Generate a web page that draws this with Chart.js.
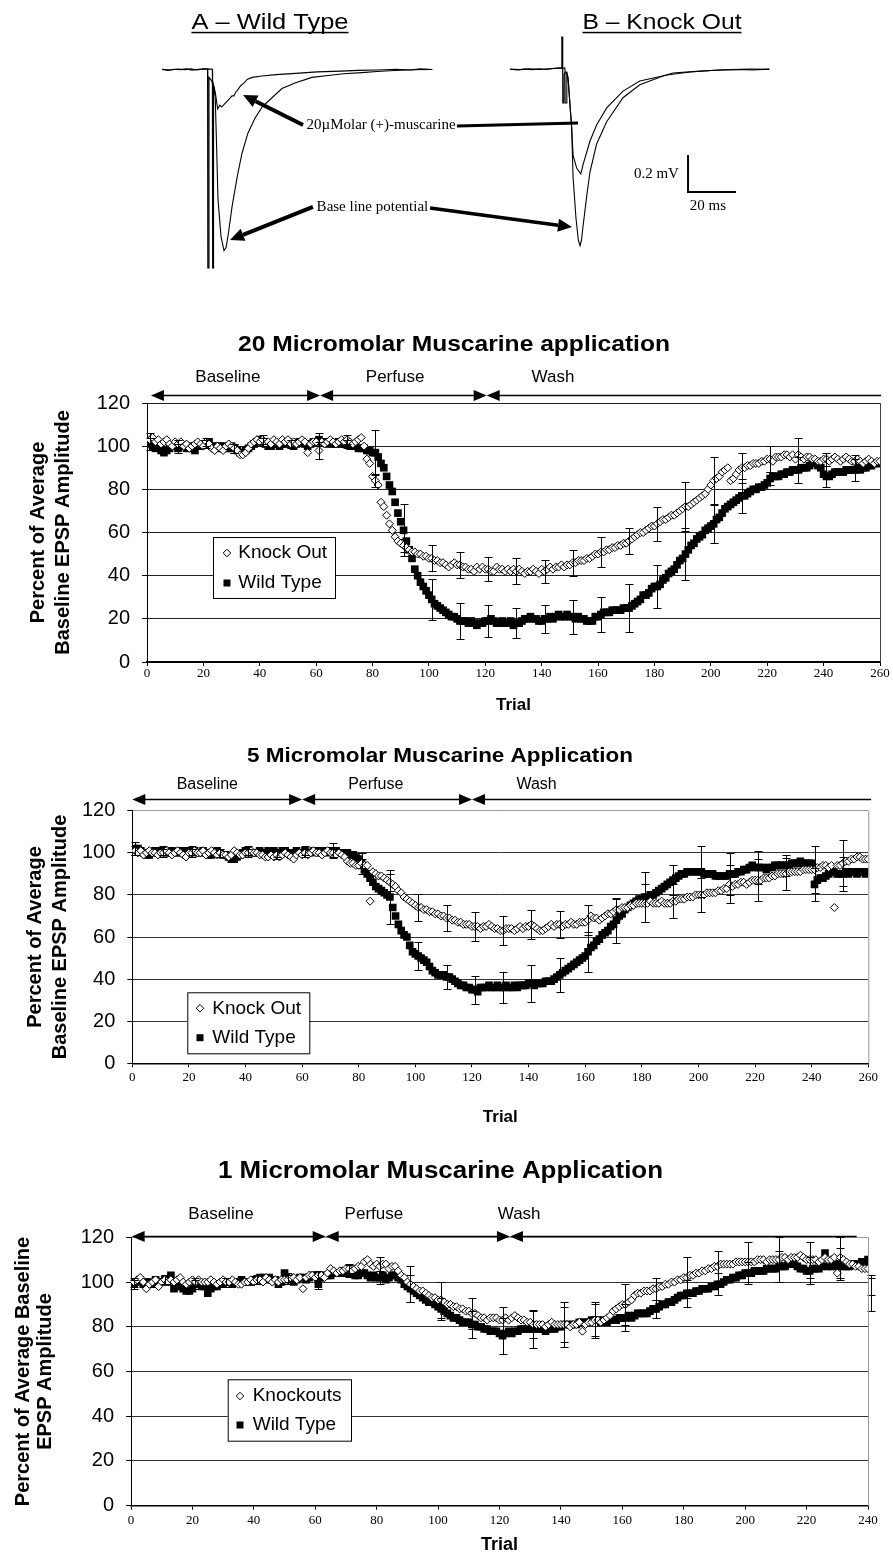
<!DOCTYPE html>
<html>
<head>
<meta charset="utf-8">
<title>Muscarine application – EPSP amplitude</title>
<script src="https://cdn.jsdelivr.net/npm/chart.js@4.4.1/dist/chart.umd.min.js"></script>
<style>
  html, body { margin: 0; padding: 0; background: #fff; overflow: hidden; }
  #page { position: relative; width: 893px; height: 1552px; overflow: hidden; }
  canvas { position: absolute; left: 0; }
</style>
</head>
<body>
<div id="page">
  <canvas id="traces" width="893" height="290" style="top:0"></canvas>
  <canvas id="chart20" width="893" height="390" style="top:330px"></canvas>
  <canvas id="chart5" width="893" height="390" style="top:740px"></canvas>
  <canvas id="chart1" width="893" height="430" style="top:1140px"></canvas>
</div>
<script>
const SANS = '"Liberation Sans", Arial, sans-serif';
const SERIF = '"Liberation Serif", "Times New Roman", serif';
Chart.defaults.font.family = SANS;
Chart.defaults.color = '#000';

// ---- EPSP traces, [ms after stimulus, mV] ----
const traceA_base = [
  [-19.6,0.003],[-17,-0.002],[-14.5,0.004],[-12,0.001],[-9.5,0.006],[-7,-0.001],[-4.5,0.004],[-2,0.007],[-0.6,0.004],
  [-0.5,-1.07],[-0.1,-1.07],[0,-0.04],[1.2,-0.06],[2.0,-0.09],[2.6,-0.15],[3.2,-0.43],[3.75,-0.7],[5,-0.9],
  [6.25,-0.976],[7.1,-0.96],[7.9,-0.9],[9.6,-0.74],[11.7,-0.58],[13.75,-0.45],[16.25,-0.34],[19.2,-0.26],
  [22.1,-0.2],[26.25,-0.15],[30.4,-0.1],[35.8,-0.07],[42.9,-0.04],[49.6,-0.03],[56,-0.02],[63.75,-0.014],
  [70,-0.008],[77.5,-0.003],[85,0.001],[93,0.003]
];
const traceA_musc = [
  [-19.6,0.004],[-16,0.0],[-13,0.005],[-10,0.002],[-7.5,0.006],[-5,0.0],[-2.5,0.005],[-0.6,0.006],[1.4,0.004],
  [1.5,-1.07],[1.8,-1.07],[1.9,-0.08],[2.6,-0.12],[3.6,-0.21],[4.5,-0.19],[5.3,-0.2],[6.7,-0.18],[7.5,-0.17],
  [8.2,-0.16],[9.6,-0.14],[10.4,-0.14],[11.1,-0.12],[11.8,-0.11],[13.2,-0.085],[14.6,-0.07],[16,-0.05],
  [18,-0.04],[22,-0.032],[28,-0.025],[36,-0.018],[45,-0.01],[55,-0.006],[62,-0.002],[70,0.0],[78,0.004],
  [84,0.0],[88,0.006],[93,0.003]
];
const traceB_base = [
  [-22,0.004],[-19,0.0],[-16,0.005],[-13,0.002],[-10,0.006],[-7,0.003],[-4,0.008],[-1.5,0.01],[-0.6,0.01],
  [-0.5,0.178],[-0.2,0.178],[-0.1,-0.178],[0.4,-0.178],[0.5,-0.02],[1.2,-0.01],[2.1,-0.043],[3.6,-0.31],
  [4.2,-0.58],[5.4,-0.8],[6.4,-0.92],[7.1,-0.95],[7.7,-0.92],[8.3,-0.85],[9.9,-0.68],[11.25,-0.55],[14,-0.4],
  [18.2,-0.28],[25,-0.15],[32,-0.08],[41.7,-0.032],[45.8,-0.016],[57,-0.006],[65,0.0],[72,0.003],[79,0.0],[86,0.005]
];
const traceB_musc = [
  [-22,0.005],[-18,0.002],[-14,0.006],[-10,0.003],[-6,0.007],[-2,0.01],[0.8,0.01],
  [0.9,-0.178],[1.5,-0.178],[1.6,-0.01],[2.1,-0.043],[3.6,-0.31],[4.2,-0.46],[5.7,-0.53],[7.4,-0.562],
  [8.3,-0.514],[11.25,-0.384],[14,-0.297],[18.2,-0.205],[25,-0.114],[32,-0.059],[43.3,-0.027],[53,-0.011],
  [62,-0.003],[70,0.002],[78,0.005],[86,0.004]
];

// ---- percent of baseline EPSP amplitude, one value per trial starting at trial 1 ----
const phaseNames = ['Baseline', 'Perfuse', 'Wash'];

const ko20 = [
  103,104,102,103,101,102,103,101,100,102, 101,102,100,101,99,100,101,102,101,100,
  102,101,99,98,100,99,98,100,101,100, 99,98,96,96,97,99,101,102,103,102,
  103,101,102,101,103,102,101,103,102,103, 101,102,101,102,103,102,97,101,102,102,
  98,102,101,102,103,102,101,102,103,102, 103,102,101,102,103,104,100,94,92,86,
  84,82,74,72,68,64,61,58,56,55, 54,53,52,51,51,50,50,49,49,48,
  48,47,47,46,46,45,44,45,46,45, 45,44,44,43,43,42,44,43,44,43,
  43,42,42,44,43,43,42,43,42,43, 42,43,42,41,42,42,43,42,41,43,
  42,43,44,43,44,44,45,44,45,45, 46,46,47,47,47,48,48,49,50,50,
  51,51,52,52,53,53,54,54,55,55, 56,57,58,59,60,60,61,62,63,63,
  64,65,66,66,67,68,68,69,70,71, 72,72,73,74,75,76,77,78,80,82,
  84,85,86,88,89,90,84,85,87,89, 90,90,91,91,92,92,92,93,93,94,
  94,93,95,95,95,96,96,95,96,94, 96,95,94,95,95,94,94,93,93,94,
  94,93,94,95,94,93,94,95,94,93, 93,94,93,92,93,94,93,92,93,93
];
const wt20 = [
  101,100,99,100,98,97,98,99,100,100, 99,100,100,99,100,99,98,100,100,101,
  101,102,100,100,99,100,100,99,99,100, 99,98,97,97,98,99,100,101,102,103,
  102,101,100,100,101,101,100,101,101,102, 101,100,101,102,102,101,100,101,102,102,
  103,102,102,101,102,101,101,102,101,101, 101,100,100,100,99,99,99,98,98,97,
  97,95,92,90,86,82,79,74,69,65, 61,56,52,48,43,40,37,35,33,31,
  29,27,26,25,24,23,22,21,21,20, 19,19,19,18,19,18,17,18,18,19,
  19,20,19,18,18,19,18,18,19,17, 18,18,19,20,20,21,20,20,19,19,
  20,20,21,20,21,22,21,21,22,21, 21,20,21,20,20,19,19,19,21,21,
  22,23,23,23,24,24,24,24,25,25, 25,26,27,28,29,31,31,32,34,35,
  35,36,38,39,41,42,43,45,47,48, 50,52,54,55,57,58,59,61,62,63,
  64,66,67,69,71,72,73,74,75,76, 77,77,78,79,80,80,81,81,82,83,
  85,86,86,86,87,87,88,88,89,89, 89,90,90,90,91,92,92,91,90,87,
  86,86,87,88,88,88,88,89,89,89, 89,90,89,90,90,91,91,92,92,92
];
const errTrials20 = [1,11,21,31,41,51,61,71,81,91,101,111,121,131,141,151,161,171,181,191,201,211,221,231,241,251];
const errKo20 = [3,2,2,2,2,2,4,2,3,3, 6,6,5.6,6,5.4,6,7,6,8,11.5, 11,7,6,8,3,3];
const errWt20 = [3,2,2,2,2,2,3,2,10.5,12, 9.6,8.5,7.3,7,6.6,7.9,8.3,11,10,12, 8.7,8,3,6,5,5];

const ko5 = [
  101,100,101,99,100,101,100,100,99,100, 100,101,100,99,100,101,100,99,98,100,
  100,101,100,100,101,99,100,101,100,99, 100,99,99,98,99,101,100,99,99,100,
  100,101,100,100,99,99,98,98,99,98, 99,98,99,100,99,98,97,99,100,99,
  100,99,100,101,100,100,99,100,101,100, 100,99,100,99,98,96,95,95,94,94,
  95,94,94,77,91,90,89,89,88,87, 86,85,84,82,81,79,78,77,76,75,
  74,74,73,73,72,72,71,71,70,70, 69,69,68,68,67,67,66,66,66,65,
  65,65,64,65,65,66,65,64,64,63, 63,64,64,64,63,64,65,64,65,65,
  66,65,64,63,63,64,65,66,65,66, 66,65,66,66,67,66,66,67,67,67,
  68,70,69,69,68,69,70,71,71,72, 73,73,74,74,74,75,75,76,76,76,
  76,76,77,76,76,76,77,76,76,76, 77,77,78,78,78,79,79,79,80,80,
  80,80,81,81,81,81,82,82,83,83, 85,84,85,85,86,86,85,86,87,87,
  87,87,88,88,88,89,89,90,90,90, 90,91,91,91,91,91,92,92,92,92,
  92,93,93,94,94,93,94,74,94,94, 95,96,96,97,97,98,98,97,97,97
];
const wt5 = [
  102,102,101,100,99,99,100,101,100,101, 101,100,100,101,100,100,101,100,101,100,
  101,101,100,100,101,100,99,99,100,101, 100,99,99,98,97,97,98,99,100,101,
  101,100,100,100,101,100,100,101,100,101, 100,100,101,101,100,100,100,101,100,100,
  101,100,100,101,101,100,101,101,100,101, 101,101,100,100,100,100,99,99,98,97,
  95,92,90,88,86,84,83,82,81,80, 79,74,70,66,63,61,60,56,53,52,
  51,50,49,48,46,44,43,42,42,42, 41,41,40,39,38,37,37,36,36,35,
  35,34,36,36,36,37,36,36,37,36, 36,37,36,36,37,36,37,37,37,38,
  38,37,38,38,38,39,39,39,40,41, 42,43,44,45,46,47,48,49,50,51,
  53,55,56,58,59,61,62,63,65,66, 68,70,71,73,74,75,76,77,78,78,
  79,79,80,80,81,82,83,84,85,86, 87,88,89,90,90,91,91,91,91,91,
  91,90,90,90,90,89,89,89,89,89, 90,90,90,91,91,92,92,93,94,93,
  93,93,93,92,93,93,94,94,94,94, 94,94,95,95,95,96,95,95,95,95,
  85,87,88,88,89,90,91,91,90,90, 90,91,90,91,91,90,91,91,90,91
];
const errTrials5 = [1,11,21,31,41,51,61,71,81,91,101,111,121,131,141,151,161,171,181,191,201,211,221,231,241,251];
const errKo5 = [2,2,2,2,2,2,2,2,2,4, 6.5,6.2,6.7,7,7,6.5,7,5,9,8, 8,9,10,7.5,11,11];
const errWt5 = [3,2,2,2,2,2,2,3.5,5,13, 6.7,5.5,6.7,7.5,8.8,8,9.5,10.7,12,7, 12,10,8,5,8,8];

const ko1 = [
  100,101,102,100,97,99,100,101,98,100, 101,100,101,100,101,102,100,99,100,101,
  100,101,100,100,100,101,100,99,100,101, 100,100,101,100,99,99,100,100,101,100,
  101,101,100,102,101,100,101,100,101,101, 101,102,102,101,102,97,102,103,103,102,
  103,103,102,104,106,105,104,105,105,106, 106,105,106,107,107,109,110,108,107,108,
  107,108,108,106,107,107,105,103,102,100, 99,98,97,96,96,95,94,93,93,92,
  92,91,90,90,89,89,88,88,87,87, 86,86,85,84,84,83,84,84,84,83,
  83,84,83,84,85,84,83,83,82,82, 81,81,81,81,80,81,82,81,81,81,
  81,81,80,81,81,82,78,81,82,82, 83,83,82,83,84,85,87,88,89,90,
  90,91,92,94,95,95,96,96,96,97, 97,98,98,99,99,100,100,101,101,102,
  102,103,103,104,104,105,105,106,106,107, 107,108,108,108,108,108,109,109,109,109,
  109,109,109,110,110,110,109,110,110,110, 110,111,111,110,111,111,111,112,111,110,
  110,110,110,109,110,111,110,110,111,104, 111,110,109,108,108,107,107,106,106,106,
  98
];
const wt1 = [
  99,100,101,99,100,100,99,101,100,100, 101,100,103,97,98,99,97,96,96,97,
  99,99,98,98,95,97,98,98,99,99, 100,100,99,100,100,101,100,100,100,101,
  101,102,102,101,102,101,101,99,100,104, 102,101,100,101,102,102,101,102,103,103,
  99,102,103,103,103,104,104,104,105,104, 105,104,103,103,104,104,103,102,103,102,
  102,103,101,102,103,103,102,101,99,98, 97,96,95,94,93,92,91,91,90,89,
  88,87,86,85,84,84,83,82,82,82, 81,81,80,80,79,79,78,78,78,77,
  76,77,78,77,78,78,79,79,79,79, 79,79,79,79,78,79,79,79,80,80,
  81,81,81,81,81,82,82,82,82,83, 83,83,82,83,82,83,83,83,84,84,
  84,85,84,85,86,86,86,86,87,88, 88,89,90,90,91,91,92,93,94,94,
  95,95,95,96,96,97,97,97,98,98, 99,99,100,101,101,102,102,103,103,104,
  104,104,105,105,105,105,106,106,106,106, 107,107,107,108,108,108,107,106,106,105,
  105,106,106,106,107,113,107,107,108,107, 108,107,107,107,108,108,108,109,109,110,
  95
];
const errTrials1 = [1,11,21,31,41,51,61,71,81,91,101,111,121,131,141,151,161,171,181,191,201,211,221,231,241];
const errKo1 = [2,2,2,2,2,2,2,2,4,8, 8,7,6,6,8,7,9,5,9,7, 9,10,8,9,4];
const errWt1 = [2,2,2,2,2,2,2,2.7,3,6, 5,6,8,8.7,10,8,6,4,6,5, 5,7,6,7,8];

// the figure's lettering is a little wider than the installed fonts, so text is stretched to its width
function wideText(ctx, text, cx, cy, width) {
  const k = width / ctx.measureText(text).width;
  ctx.save();
  ctx.translate(cx, cy);
  ctx.scale(k, 1);
  ctx.fillText(text, 0, 0);
  ctx.restore();
}

// ---------------- top panel: example traces ----------------
const traceTitles = [
  {axis: 'xA', t: 25.4, v: 0.22, text: 'A \u2013 Wild Type', width: 157},
  {axis: 'xB', t: 41.25, v: 0.22, text: 'B \u2013 Knock Out', width: 159}
];
const traceArrows = [
  {from: [39.2, -0.297], to: [14.2, -0.135], head: true, width: 4},
  {from: [103.3, -0.303], to: [153.75, -0.286], head: false, width: 3},
  {from: [43.3, -0.74], to: [8.75, -0.919], head: true, width: 4},
  {from: [92.1, -0.746], to: [151.25, -0.849], head: true, width: 3.5}
];
const traceLabels = [
  {axis: 'xA', t: 71.7, v: -0.297, text: '20\u00b5Molar (+)-muscarine', align: 'center'},
  {axis: 'xA', t: 68.1, v: -0.741, text: 'Base line potential', align: 'center'},
  {axis: 'xB', t: 48.3, v: -0.562, text: '0.2 mV', align: 'right'},
  {axis: 'xB', t: 60.4, v: -0.735, text: '20 ms', align: 'center'}
];
const scaleBar = {t0: 52.1, ms: 20, v0: -0.659, mV: 0.2};

function drawArrow(ctx, x0, y0, x1, y1, w, head) {
  const ang = Math.atan2(y1 - y0, x1 - x0);
  const c = Math.cos(ang), s = Math.sin(ang);
  const hl = head ? 14 : 0, hw = 6.5;
  ctx.lineWidth = w;
  ctx.beginPath();
  ctx.moveTo(x0, y0);
  ctx.lineTo(x1 - hl * c, y1 - hl * s);
  ctx.stroke();
  if (head) {
    ctx.beginPath();
    ctx.moveTo(x1, y1);
    ctx.lineTo(x1 - hl * c + hw * s, y1 - hl * s - hw * c);
    ctx.lineTo(x1 - hl * c - hw * s, y1 - hl * s + hw * c);
    ctx.closePath();
    ctx.fill();
  }
}

const traceNotes = {
  id: 'traceNotes',
  afterDraw(chart) {
    const {ctx, scales} = chart;
    const y = scales.y;
    ctx.save();
    ctx.fillStyle = '#000';
    ctx.strokeStyle = '#000';

    ctx.font = '22px ' + SANS;
    ctx.textAlign = 'center';
    ctx.textBaseline = 'alphabetic';
    traceTitles.forEach(pt => {
      const px = scales[pt.axis].getPixelForValue(pt.t);
      const py = y.getPixelForValue(pt.v);
      wideText(ctx, pt.text, px, py, pt.width);
      ctx.fillRect(px - pt.width / 2, py + 2.5, pt.width, 1.5);
    });

    traceArrows.forEach(a => {
      drawArrow(ctx,
        scales.xA.getPixelForValue(a.from[0]), y.getPixelForValue(a.from[1]),
        scales.xA.getPixelForValue(a.to[0]), y.getPixelForValue(a.to[1]),
        a.width, a.head);
    });

    ctx.font = '15px ' + SERIF;
    ctx.textBaseline = 'middle';
    traceLabels.forEach(l => {
      ctx.textAlign = l.align;
      ctx.fillText(l.text, scales[l.axis].getPixelForValue(l.t), y.getPixelForValue(l.v));
    });

    const bx0 = scales.xB.getPixelForValue(scaleBar.t0);
    const bx1 = scales.xB.getPixelForValue(scaleBar.t0 + scaleBar.ms);
    const by0 = y.getPixelForValue(scaleBar.v0);
    const by1 = y.getPixelForValue(scaleBar.v0 + scaleBar.mV);
    ctx.lineWidth = 2;
    ctx.beginPath();
    ctx.moveTo(bx0, by1);
    ctx.lineTo(bx0, by0);
    ctx.lineTo(bx1, by0);
    ctx.stroke();
    ctx.restore();
  }
};

function traceSet(pairs, axis) {
  return {
    data: pairs.map(p => ({x: p[0], y: p[1]})),
    xAxisID: axis, yAxisID: 'y',
    showLine: true, borderColor: '#000', borderWidth: 1.1,
    pointRadius: 0, tension: 0
  };
}

new Chart(document.getElementById('traces'), {
  type: 'scatter',
  data: {
    datasets: [
      traceSet(traceA_base, 'xA'), traceSet(traceA_musc, 'xA'),
      traceSet(traceB_base, 'xB'), traceSet(traceB_musc, 'xB')
    ]
  },
  options: {
    responsive: false, animation: false, devicePixelRatio: 1, events: [],
    layout: {padding: 0},
    plugins: {legend: {display: false}, tooltip: {enabled: false}},
    scales: {
      xA: {type: 'linear', axis: 'x', display: false, min: -87.083, max: 285},
      xB: {type: 'linear', axis: 'x', display: false, min: -234.583, max: 137.5},
      y: {type: 'linear', display: false, min: -1.1892, max: 0.3784}
    }
  },
  plugins: [traceNotes]
});

// ---------------- trial charts ----------------
function toPoints(vals) {
  return vals.map((v, i) => ({x: i + 1, y: v}));
}

function drawHead(ctx, tipX, y, dir) {
  ctx.beginPath();
  ctx.moveTo(tipX, y);
  ctx.lineTo(tipX - dir * 13, y - 5.5);
  ctx.lineTo(tipX - dir * 13, y + 5.5);
  ctx.closePath();
  ctx.fill();
}

function drawErrorBars(chart, p) {
  const {ctx, scales: {x, y}} = chart;
  ctx.save();
  ctx.strokeStyle = '#000';
  ctx.lineWidth = 1;
  [p.errKo, p.errWt].forEach((errs, di) => {
    const data = chart.data.datasets[di].data;
    p.errTrials.forEach((t, k) => {
      const pt = data[t - 1];
      if (!pt) return;
      const px = Math.round(x.getPixelForValue(t)) + 0.5;
      const yt = Math.round(y.getPixelForValue(pt.y + errs[k])) + 0.5;
      const yb = Math.round(y.getPixelForValue(pt.y - errs[k])) + 0.5;
      ctx.beginPath();
      ctx.moveTo(px, yt); ctx.lineTo(px, yb);
      ctx.moveTo(px - 4, yt); ctx.lineTo(px + 4, yt);
      ctx.moveTo(px - 4, yb); ctx.lineTo(px + 4, yb);
      ctx.stroke();
    });
  });
  ctx.restore();
}

function drawPanelNotes(chart, p) {
  const {ctx, chartArea: a, scales: {x, y}} = chart;
  ctx.save();
  // right edge of the plot frame
  ctx.strokeStyle = p.frameColor;
  ctx.lineWidth = 1;
  ctx.beginPath();
  ctx.moveTo(a.right + 0.5, a.top);
  ctx.lineTo(a.right + 0.5, a.bottom);
  ctx.stroke();

  // chart title
  ctx.fillStyle = '#000';
  ctx.strokeStyle = '#000';
  ctx.font = 'bold ' + p.titleSize + 'px ' + SANS;
  ctx.textAlign = 'center';
  ctx.textBaseline = 'middle';
  wideText(ctx, p.title, p.titleX, p.titleY, p.titleWidth);

  // Baseline / Perfuse / Wash arrows
  const py = Math.round(y.getPixelForValue(p.phaseY)) + 0.5;
  const ly = y.getPixelForValue(p.phaseLabelY);
  ctx.font = p.phaseFont + 'px ' + SANS;
  ctx.lineWidth = 1.3;
  for (let i = 0; i < phaseNames.length; i++) {
    const x0 = x.getPixelForValue(p.phases[i]);
    const x1 = x.getPixelForValue(p.phases[i + 1]);
    const last = i === phaseNames.length - 1;
    ctx.beginPath();
    ctx.moveTo(x0 + 5, py);
    ctx.lineTo(last ? x1 : x1 - 5, py);
    ctx.stroke();
    drawHead(ctx, x0, py, -1);
    if (!last) drawHead(ctx, x1, py, 1);
    ctx.fillText(phaseNames[i], x.getPixelForValue(p.phaseLabelAt[i]), ly);
  }

  // legend box
  const lg = p.legend;
  ctx.fillStyle = '#fff';
  ctx.fillRect(lg.x0, lg.y0, lg.x1 - lg.x0, lg.y1 - lg.y0);
  ctx.lineWidth = 1;
  ctx.strokeRect(lg.x0 + 0.5, lg.y0 + 0.5, lg.x1 - lg.x0, lg.y1 - lg.y0);
  const mx = lg.markX, r0 = lg.rows[0], r1 = lg.rows[1];
  ctx.beginPath();
  ctx.moveTo(mx, r0 - 3.8); ctx.lineTo(mx + 3.8, r0); ctx.lineTo(mx, r0 + 3.8); ctx.lineTo(mx - 3.8, r0);
  ctx.closePath();
  ctx.stroke();
  ctx.fillStyle = '#000';
  ctx.fillRect(mx - 3.5, r1 - 3.5, 7, 7);
  ctx.font = '19px ' + SANS;
  ctx.textAlign = 'left';
  ctx.fillText(chart.data.datasets[0].label, lg.textX, r0);
  ctx.fillText(chart.data.datasets[1].label, lg.textX, r1);
  ctx.restore();
}

function trialChart(p) {
  const panel = {
    id: 'panel_' + p.canvas,
    afterDatasetsDraw(chart) { drawErrorBars(chart, p); },
    afterDraw(chart) { drawPanelNotes(chart, p); }
  };
  return new Chart(document.getElementById(p.canvas), {
    type: 'scatter',
    data: {
      datasets: [
        {label: p.koLabel, data: toPoints(p.ko), pointStyle: 'rectRot', pointRadius: 4,
         pointBackgroundColor: '#fff', pointBorderColor: '#000', pointBorderWidth: 1},
        {label: 'Wild Type', data: toPoints(p.wt), pointStyle: 'rect', pointRadius: 5.4,
         pointBackgroundColor: '#000', pointBorderColor: '#000', pointBorderWidth: 0}
      ]
    },
    options: {
      responsive: false, animation: false, devicePixelRatio: 1, events: [],
      layout: {padding: {top: p.padTop, right: p.padRight, left: 0, bottom: 0}},
      plugins: {legend: {display: false}, tooltip: {enabled: false}},
      scales: {
        x: {
          type: 'linear', min: 0, max: p.xMax,
          afterFit(s) { s.height = p.xHeight; },
          ticks: {stepSize: 20, autoSkip: false, maxRotation: 0, color: '#000',
                  padding: p.xTickPad, font: {family: SERIF, size: 13}},
          grid: {drawOnChartArea: false, drawTicks: true, tickLength: 4, color: '#000'},
          border: {color: '#000', width: p.xBorder},
          title: {display: true, text: 'Trial', color: '#000',
                  font: {size: p.xTitleSize, weight: 'bold', lineHeight: 1.2},
                  padding: {top: 0, bottom: p.xTitlePad}}
        },
        y: {
          type: 'linear', min: 0, max: 120,
          afterFit(s) { s.width = p.yWidth; },
          ticks: {stepSize: 20, color: '#000', padding: 12, font: {size: 20}},
          grid: {color: c => (c.tick && c.tick.value === 120 ? p.topGrid : p.gridColor),
                 tickColor: '#000', tickLength: 5, drawTicks: true, lineWidth: 1},
          border: {color: '#000', width: 1},
          title: {display: true, text: p.yTitle, color: '#000',
                  font: {size: 20, weight: 'bold', lineHeight: p.yTitleLH},
                  padding: {top: p.yTitlePad, bottom: 0}}
        }
      }
    },
    plugins: [panel]
  });
}

trialChart({
  canvas: 'chart20', ko: ko20, wt: wt20, koLabel: 'Knock Out',
  errTrials: errTrials20, errKo: errKo20, errWt: errWt20,
  xMax: 260, padTop: 73, padRight: 13, yWidth: 147, xHeight: 58, xTickPad: 0, xBorder: 2,
  xTitleSize: 17, xTitlePad: 4.8,
  yTitle: ['Percent of Average', 'Baseline EPSP Amplitude'], yTitleLH: 1.25, yTitlePad: 25.5,
  gridColor: '#222', topGrid: '#222', frameColor: '#444',
  title: '20 Micromolar Muscarine application', titleX: 454, titleY: 15, titleSize: 22, titleWidth: 432,
  phases: [1.4, 61.4, 120.5, 260.4], phaseLabelAt: [28.7, 88, 144], phaseY: 123.7, phaseLabelY: 132, phaseFont: 17,
  legend: {x0: 213, y0: 207, x1: 335, y1: 268, rows: [223, 253], markX: 227, textX: 238.3}
});

trialChart({
  canvas: 'chart5', ko: ko5, wt: wt5, koLabel: 'Knock Out',
  errTrials: errTrials5, errKo: errKo5, errWt: errWt5,
  xMax: 260, padTop: 70.7, padRight: 24.7, yWidth: 132.3, xHeight: 66.7, xTickPad: 2.5, xBorder: 1.5,
  xTitleSize: 17, xTitlePad: 2.8,
  yTitle: ['Percent of Average', 'Baseline EPSP Amplitude'], yTitleLH: 1.25, yTitlePad: 22.5,
  gridColor: '#333', topGrid: '#999', frameColor: '#999',
  title: '5 Micromolar Muscarine Application', titleX: 440, titleY: 16.7, titleSize: 21, titleWidth: 386,
  phases: [0, 60, 120, 261], phaseLabelAt: [26.5, 86, 142.8], phaseY: 125.4, phaseLabelY: 132.5, phaseFont: 16,
  legend: {x0: 187.3, y0: 252.3, x1: 309.3, y1: 313.3, rows: [268.3, 297.7], markX: 200, textX: 212.3}
});

trialChart({
  canvas: 'chart1', ko: ko1, wt: wt1, koLabel: 'Knockouts',
  errTrials: errTrials1, errKo: errKo1, errWt: errWt1,
  xMax: 240, padTop: 97.3, padRight: 25, yWidth: 131, xHeight: 64.3, xTickPad: 3, xBorder: 1.5,
  xTitleSize: 18, xTitlePad: 14.2,
  yTitle: ['Percent of Average Baseline', 'EPSP Amplitude'], yTitleLH: 1.085, yTitlePad: 12.45,
  gridColor: '#333', topGrid: '#999', frameColor: '#999',
  title: '1 Micromolar Muscarine Application', titleX: 440.5, titleY: 31.7, titleSize: 23, titleWidth: 445,
  phases: [0.2, 63.4, 123.4, 236.3], phaseLabelAt: [29.3, 79.1, 126.4], phaseY: 120.6, phaseLabelY: 130.3, phaseFont: 17,
  legend: {x0: 227.7, y0: 239.3, x1: 351, y1: 300.7, rows: [256, 285], markX: 240, textX: 252.7}
});
</script>
</body>
</html>
